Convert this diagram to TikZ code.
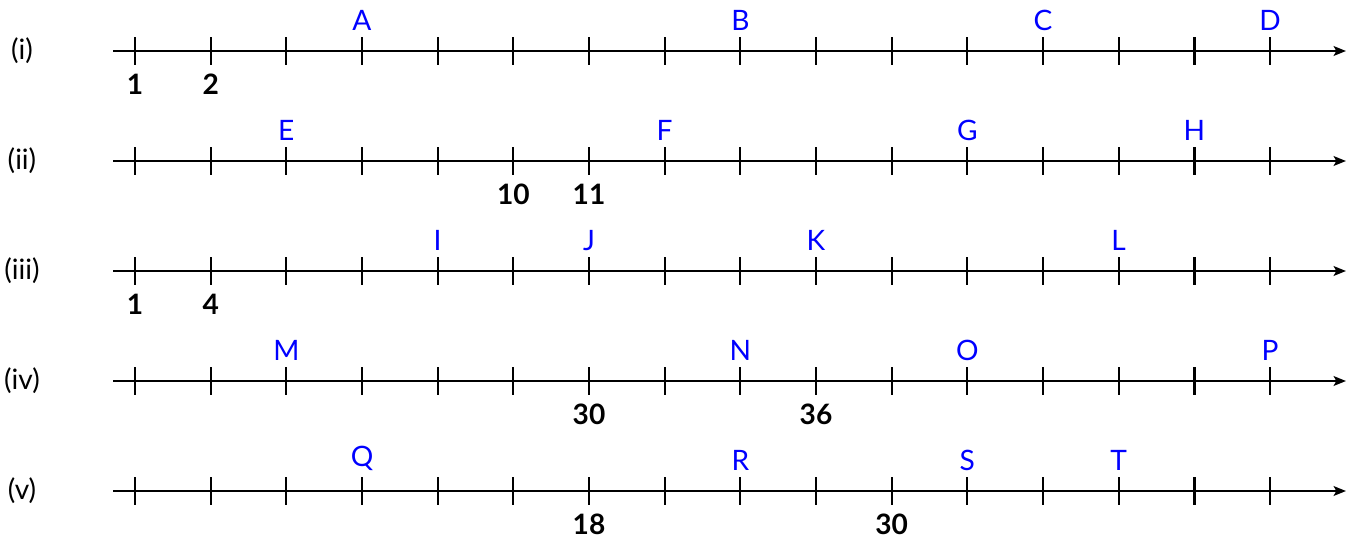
\documentclass[tikz,border=0pt]{standalone}
\usepackage{fontspec}
\setmainfont{Lato}
\usepackage{tikz}
\usetikzlibrary{arrows.meta,positioning,calc}

\begin{document}
\begin{tikzpicture}[x=0.02cm, y=0.02cm, every node/.style={inner sep=0pt},
  axis/.style={line width=1.3pt, -{Stealth[length=7pt,width=5.5pt,inset=1.5pt]}},
  tick/.style={line width=1.3pt},
  rowlab/.style={font=\fontsize{16}{19}\selectfont},
  lbl/.style={text=blue, font=\fontsize{16}{19}\selectfont, above=11.5pt of #1},
  num/.style={font=\fontsize{16}{19}\selectfont\bfseries, below=13pt of #1}]
\useasboundingbox (0,0) rectangle (1351,539);
% five number lines with sixteen ticks each
\foreach \row [count=\r from 0] in {i,ii,iii,iv,v} {
  \pgfmathsetmacro\yy{488-110*\r}
  \node[rowlab] (lab-\row) at (22,\yy) {(\row)};
  \coordinate (start-\row) at (113,\yy);
  \coordinate (end-\row) at (1346,\yy);
  \draw[axis] (start-\row) -- (end-\row);
  \foreach \k in {0,...,15} {
    \coordinate (t-\row-\k) at (135+75.667*\k,\yy);
    \draw[tick] ($(t-\row-\k)+(0,14)$) -- ($(t-\row-\k)+(0,-14)$);
  }
}
% (i)
\node[lbl=t-i-3] (A) {A};
\node[lbl=t-i-8] (B) {B};
\node[lbl=t-i-12] (C) {C};
\node[lbl=t-i-15] (D) {D};
\node[num=t-i-0] (n-i-1) {1};
\node[num=t-i-1] (n-i-2) {2};
% (ii)
\node[lbl=t-ii-2] (E) {E};
\node[lbl=t-ii-7] (F) {F};
\node[lbl=t-ii-11] (G) {G};
\node[lbl=t-ii-14] (H) {H};
\node[num=t-ii-5] (n-ii-10) {10};
\node[num=t-ii-6] (n-ii-11) {11};
% (iii)
\node[lbl=t-iii-4] (I) {I};
\node[lbl=t-iii-6] (J) {J};
\node[lbl=t-iii-9] (K) {K};
\node[lbl=t-iii-13] (L) {L};
\node[num=t-iii-0] (n-iii-1) {1};
\node[num=t-iii-1] (n-iii-4) {4};
% (iv)
\node[lbl=t-iv-2] (M) {M};
\node[lbl=t-iv-8] (N) {N};
\node[lbl=t-iv-11] (O) {O};
\node[lbl=t-iv-15] (P) {P};
\node[num=t-iv-6] (n-iv-30) {30};
\node[num=t-iv-9] (n-iv-36) {36};
% (v)
\node[lbl=t-v-3] (Q) {Q};
\node[lbl=t-v-8] (R) {R};
\node[lbl=t-v-11] (S) {S};
\node[lbl=t-v-13] (T) {T};
\node[num=t-v-6] (n-v-18) {18};
\node[num=t-v-10] (n-v-30) {30};
\end{tikzpicture}
\end{document}
